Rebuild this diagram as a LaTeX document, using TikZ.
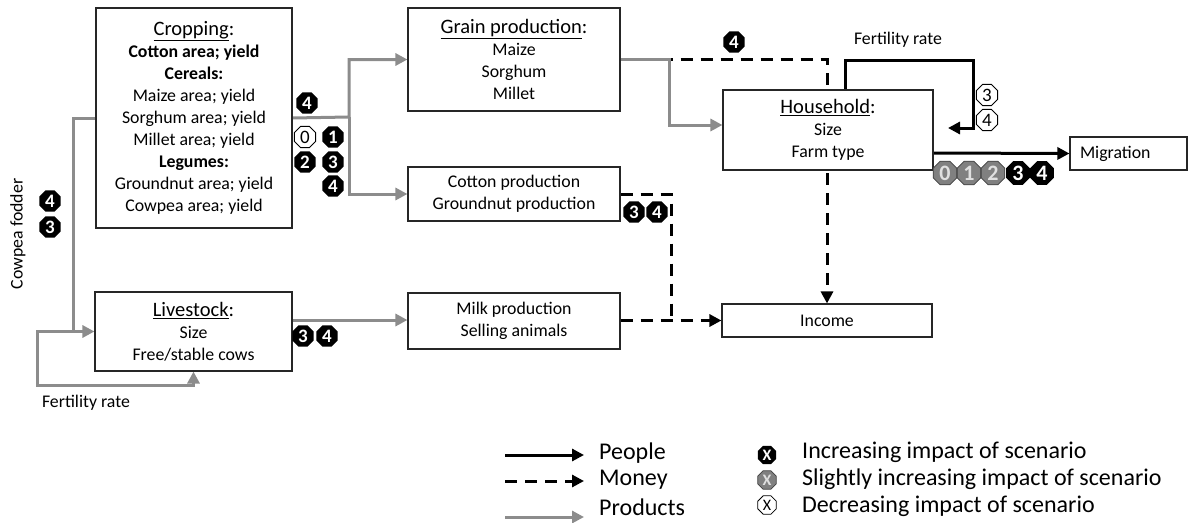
\documentclass[tikz,border=0pt]{standalone}
\usepackage{fontspec}
\setmainfont{Carlito}
\usetikzlibrary{arrows.meta,shapes.geometric}
\pgfdeclarelayer{bg}
\pgfsetlayers{bg,main}
\newcommand\txtsize{\fontsize{17.8}{22}\selectfont}
\newcommand\ttlsize{\fontsize{20.5}{22}\selectfont}
\newcommand\keysize{\fontsize{24}{27}\selectfont}
\definecolor{prodgray}{RGB}{140,140,140}

\begin{document}
\begin{tikzpicture}[x=1pt,y=-1pt,
  box/.style={draw=black!85,line width=1.1pt,fill=white,align=center,inner sep=0pt,font=\txtsize},
  lbl/.style={inner sep=0pt,font=\txtsize},
  keytext/.style={inner sep=0pt,anchor=west,font=\keysize},
  tip/.style={-{Triangle[length=12pt,width=12pt]}},
  prod/.style={draw=prodgray,line width=3pt},
  money/.style={draw=black,line width=3pt,dash pattern=on 12pt off 8pt},
  people/.style={draw=black,line width=3pt},
  oct/.style={regular polygon,regular polygon sides=8,minimum size=23pt,inner sep=0pt,
    font=\fontsize{19}{19}\selectfont\bfseries},
  incr/.style={oct,fill=black,text=white},
  slight/.style={oct,fill=black!50,draw=black!75,line width=0.7pt,text=black!12},
  decr/.style={oct,fill=white,draw=black,line width=0.8pt,text=black,
    font=\fontsize{19}{19}\selectfont},
  big/.style={minimum size=25.5pt,font=\fontsize{22}{22}\selectfont\bfseries},
  small/.style={minimum size=20pt,font=\fontsize{16}{16}\selectfont\bfseries}]

\useasboundingbox (0,0) rectangle (1188,522);

% ---------- boxes ----------
\node[box,minimum width=196pt,minimum height=220pt] (crop) at (194,118)
  {{\ttlsize\underline{Cropping}:}\\ \textbf{Cotton area; yield}\\ \textbf{Cereals:}\\
   Maize area; yield\\ Sorghum area; yield\\ Millet area; yield\\ \textbf{Legumes:}\\
   Groundnut area; yield\\ Cowpea area; yield};
\node[box,minimum width=212pt,minimum height=103pt] (grain) at (514,59.5)
  {{\ttlsize\underline{Grain production}:}\\ Maize\\ Sorghum\\ Millet};
\node[box,minimum width=212pt,minimum height=54pt] (cotton) at (514,194)
  {Cotton production\\ Groundnut production};
\node[box,minimum width=212pt,minimum height=56pt] (milk) at (514,321)
  {Milk production\\ Selling animals};
\node[box,minimum width=197pt,minimum height=79pt] (stock) at (193.5,331.5)
  {{\ttlsize\underline{Livestock}:}\\ Size\\ Free/stable cows};
\node[box,minimum width=210pt,minimum height=80pt] (house) at (828,130)
  {{\ttlsize\underline{Household}:}\\ Size\\ Farm type};
\node[box,minimum width=210pt,minimum height=33pt] (income) at (827,320.5) {Income};
\node[box,minimum height=33pt,text width=97pt,inner xsep=10pt,align=left] (mig)
  at (1128.5,153.5) {Migration};

% ---------- junctions ----------
\coordinate (j1) at (349,117);
\coordinate (fa) at (73,331.5);
\coordinate (fl) at (37,385);
\coordinate (lm) at (0,320);
\coordinate (j2) at (669,59.5);
\coordinate (hy) at (0,125);
\coordinate (m1) at (827,59.5);
\coordinate (c1) at (671,194);
\coordinate (c2) at (671,320.5);
\coordinate (my) at (0,153);
\coordinate (f1) at (845,60);
\coordinate (f2) at (973,128);
\coordinate (f3) at (948,128);

% ---------- connectors ----------
\begin{pgfonlayer}{bg}
  % money
  \draw[money,tip] (grain.east) -- (m1) -- (income.north);
  \draw[money] (cotton.east) -- (c1) -- (c2);
  \draw[money,tip] (milk.east |- c2) -- (income.west);
  % products
  \draw[prod,tip] (crop.east) -- (j1) |- (grain.west);
  \draw[prod,tip] (j1) |- (cotton.west);
  \draw[prod,tip] (crop.west) -| (fa) -- (stock.west);
  \draw[prod,tip] (fa) -| (fl) -| (stock.south);
  \draw[prod,tip] (stock.east |- lm) -- (milk.west |- lm);
  \draw[prod,tip] (grain.east) -- (j2) |- (house.west |- hy);
  % people
  \draw[people,tip] (house.east |- my) -- (mig.west);
  \draw[people,tip] (house.north -| f1) -- (f1) -| (f2) -- (f3);
\end{pgfonlayer}

% ---------- labels ----------
\node[lbl] (fr1) at (898,40) {Fertility rate};
\node[lbl] (fr2) at (86,403) {Fertility rate};
\node[lbl,rotate=90] (cf) at (18,234) {Cowpea fodder};

% ---------- scenario markers ----------
\node[incr] (s1) at (307,103) {4};
\node[decr] (s2) at (305,137) {0};
\node[incr] (s3) at (333,137) {1};
\node[incr] (s4) at (305,162) {2};
\node[incr] (s5) at (333,162) {3};
\node[incr] (s6) at (333,186) {4};

\node[incr] (s7) at (50,201) {4};
\node[incr] (s8) at (50,227) {3};

\node[incr] (s9) at (303,336) {3};
\node[incr] (s10) at (327,336) {4};

\node[incr] (s11) at (634,212) {3};
\node[incr] (s12) at (657,212) {4};

\node[incr] (s13) at (734,42) {4};

\node[decr] (s14) at (987,95) {3};
\node[decr] (s15) at (987,120) {4};

\node[slight,big] (s16) at (945,173) {0};
\node[slight,big] (s17) at (969,173) {1};
\node[slight,big] (s18) at (993,173) {2};
\node[incr,big] (s19) at (1018,173) {3};
\node[incr,big] (s20) at (1042,173) {4};

% ---------- legend ----------
\coordinate (la1) at (505,455);  \coordinate (la2) at (584,455);
\coordinate (lb1) at (505,481);  \coordinate (lb2) at (584,481);
\coordinate (lc1) at (505,517);  \coordinate (lc2) at (584,517);
\draw[people,tip] (la1) -- (la2);
\draw[money,tip] (lb1) -- (lb2);
\draw[prod,tip] (lc1) -- (lc2);
\node[keytext] (lt1) at (599,453) {People};
\node[keytext] (lt2) at (599,480) {Money};
\node[keytext] (lt3) at (599,507) {Products};

\node[incr,small] (k1) at (767,455) {X};
\node[slight,small] (k2) at (767,480) {X};
\node[decr,small,font=\fontsize{16}{16}\selectfont] (k3) at (767,505) {X};
\node[keytext] (kt1) at (802,452) {Increasing impact of scenario};
\node[keytext] (kt2) at (802,479) {Slightly increasing impact of scenario};
\node[keytext] (kt3) at (802,506) {Decreasing impact of scenario};
\end{tikzpicture}
\end{document}
